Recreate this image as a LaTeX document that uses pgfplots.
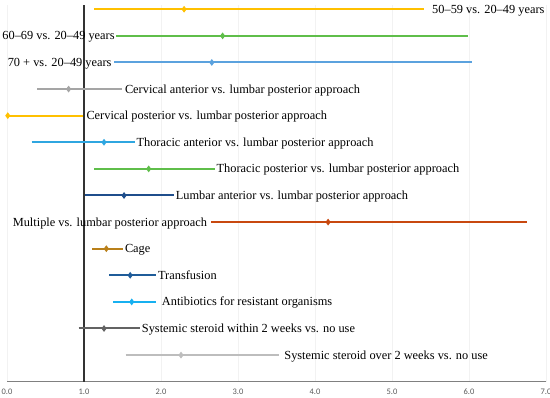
\documentclass[border=0pt]{standalone}
\usepackage{fontspec}
\setmainfont{Liberation Serif}
\newfontfamily\tickfont{Carlito}
\usepackage{pgfplots}
\pgfplotsset{compat=1.18}
\definecolor{cyel}{HTML}{FFC000}
\definecolor{cgrn}{HTML}{5FBE4A}
\definecolor{cblu}{HTML}{5BA2DE}
\definecolor{cgry}{HTML}{A5A5A5}
\definecolor{clbl}{HTML}{2FA6E0}
\definecolor{cdbl}{HTML}{1F4E8C}
\definecolor{cred}{HTML}{C8480F}
\definecolor{cgld}{HTML}{B9801A}
\definecolor{ctrb}{HTML}{1F5C99}
\definecolor{cabl}{HTML}{17B0F0}
\definecolor{cdgy}{HTML}{636363}
\definecolor{clgy}{HTML}{BDBDBD}
\definecolor{tickgray}{HTML}{595959}
\pgfplotsset{
  ci/.style={line width=2bp, mark=none},
  pt/.style={only marks, mark=diamond*, mark size=2.6bp, mark options={solid, line width=1bp}},
}
\begin{document}
\begin{tikzpicture}[
  lab/.style={anchor=base west, inner sep=0pt, yshift=-4bp, font=\fontsize{12.4}{14}\selectfont},
  labl/.style={anchor=base east, inner sep=0pt, yshift=-4bp, font=\fontsize{12.4}{14}\selectfont},
]
\useasboundingbox (-7bp,-16.3bp) rectangle (543bp,381.7bp);
\begin{axis}[
  at={(0,0)}, anchor=south west, scale only axis,
  width=539bp, height=376.7bp,
  xmin=0, xmax=7, ymin=0, ymax=14.16,
  axis x line=bottom, axis y line=none,
  x axis line style={-, draw=gray, line width=1bp},
  xtick={0,1,2,3,4,5,6,7},
  xticklabels={0.0,1.0,2.0,3.0,4.0,5.0,6.0,7.0},
  major tick length=0pt,
  xmajorgrids, grid style={color=black!5, line width=0.7bp},
  ytick=\empty,
  xticklabel style={font=\tickfont\fontsize{8.5}{10}\selectfont, text=tickgray, anchor=base, yshift=-12.5bp},
  clip=false,
]
% reference line at 1
\addplot[color=black!80, line width=1.3bp] coordinates {(1,0) (1,14.16)};

% row 1: 50-59
\addplot[cyel, ci] coordinates {(1.13,14) (5.42,14)};
\addplot[cyel, pt] coordinates {(2.30,14)};
% row 2: 60-69
\addplot[cgrn, ci] coordinates {(1.42,13) (5.99,13)};
\addplot[cgrn, pt] coordinates {(2.80,13)};
% row 3: 70+
\addplot[cblu, ci] coordinates {(1.39,12) (6.04,12)};
\addplot[cblu, pt] coordinates {(2.66,12)};
% row 4: cervical anterior
\addplot[cgry, ci] coordinates {(0.39,11) (1.49,11)};
\addplot[cgry, pt] coordinates {(0.80,11)};
% row 5: cervical posterior
\addplot[cyel, ci] coordinates {(0.00,10) (0.99,10)};
\addplot[cyel, pt] coordinates {(0.01,10)};
% row 6: thoracic anterior
\addplot[clbl, ci] coordinates {(0.32,9) (1.66,9)};
\addplot[clbl, pt] coordinates {(1.26,9)};
% row 7: thoracic posterior
\addplot[cgrn, ci] coordinates {(1.13,8) (2.70,8)};
\addplot[cgrn, pt] coordinates {(1.84,8)};
% row 8: lumbar anterior
\addplot[cdbl, ci] coordinates {(1.01,7) (2.17,7)};
\addplot[cdbl, pt] coordinates {(1.52,7)};
% row 9: multiple
\addplot[cred, ci] coordinates {(2.65,6) (6.75,6)};
\addplot[cred, pt] coordinates {(4.17,6)};
% row 10: cage
\addplot[cgld, ci] coordinates {(1.11,5) (1.51,5)};
\addplot[cgld, pt] coordinates {(1.29,5)};
% row 11: transfusion
\addplot[ctrb, ci] coordinates {(1.33,4) (1.93,4)};
\addplot[ctrb, pt] coordinates {(1.60,4)};
% row 12: antibiotics
\addplot[cabl, ci] coordinates {(1.38,3) (1.94,3)};
\addplot[cabl, pt] coordinates {(1.62,3)};
% row 13: steroid within 2 weeks
\addplot[cdgy, ci] coordinates {(0.93,2) (1.73,2)};
\addplot[cdgy, pt] coordinates {(1.26,2)};
% row 14: steroid over 2 weeks
\addplot[clgy, ci] coordinates {(1.54,1) (3.53,1)};
\addplot[clgy, pt] coordinates {(2.26,1)};

% labels
\node[lab]  at (axis cs:5.52,14) {50–59 vs. 20–49 years};
\node[labl] at (axis cs:1.40,13) {60–69 vs. 20–49 years};
\node[labl] at (axis cs:1.36,12) {70 + vs. 20–49 years};
\node[lab]  at (axis cs:1.53,11) {Cervical anterior vs. lumbar posterior approach};
\node[lab]  at (axis cs:1.03,10) {Cervical posterior vs. lumbar posterior approach};
\node[lab]  at (axis cs:1.68,9) {Thoracic anterior vs. lumbar posterior approach};
\node[lab]  at (axis cs:2.72,8) {Thoracic posterior vs. lumbar posterior approach};
\node[lab]  at (axis cs:2.19,7) {Lumbar anterior vs. lumbar posterior approach};
\node[labl] at (axis cs:2.60,6) {Multiple vs. lumbar posterior approach};
\node[lab]  at (axis cs:1.53,5) {Cage};
\node[lab]  at (axis cs:1.96,4) {Transfusion};
\node[lab]  at (axis cs:2.01,3) {Antibiotics for resistant organisms};
\node[lab]  at (axis cs:1.75,2) {Systemic steroid within 2 weeks vs. no use};
\node[lab]  at (axis cs:3.60,1) {Systemic steroid over 2 weeks vs. no use};
\end{axis}
\end{tikzpicture}
\end{document}
